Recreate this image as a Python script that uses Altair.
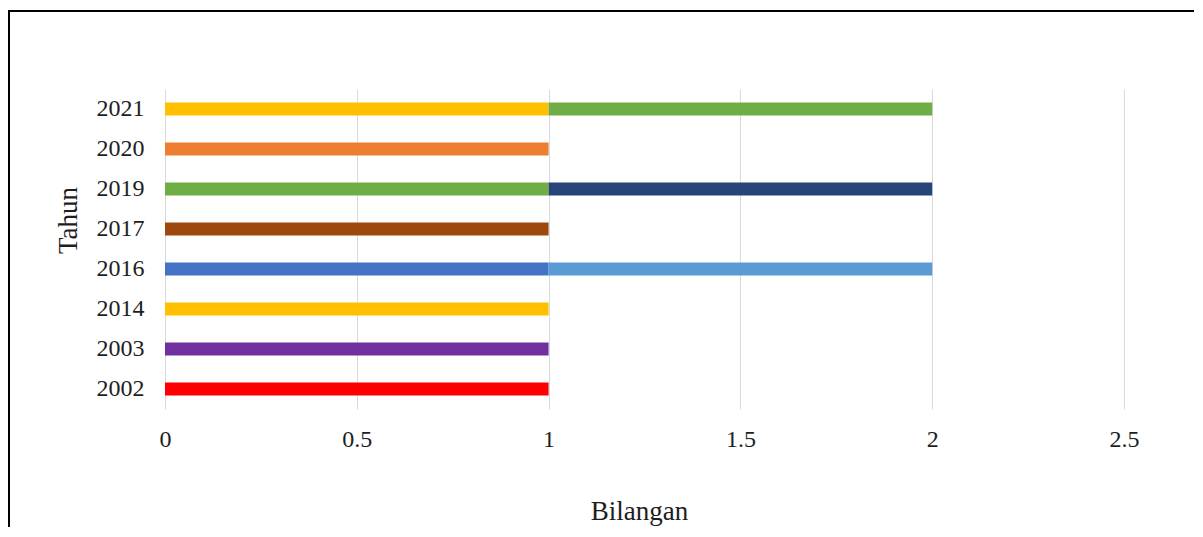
import altair as alt
import pandas as pd

# ---- data ----
years = ["2002", "2003", "2014", "2016", "2017", "2019", "2020", "2021"]
bar_year = ["2002", "2003", "2014", "2016", "2016", "2017", "2019", "2019", "2020", "2021", "2021"]
bar_value = [1, 1, 1, 1, 1, 1, 1, 1, 1, 1, 1]
bar_order = [1, 1, 1, 1, 2, 1, 1, 2, 1, 1, 2]
bar_color = ["#FF0000", "#7030A0", "#FFC000", "#4472C4", "#5B9BD5", "#9E480E",
             "#70AD47", "#264478", "#ED7D31", "#FFC000", "#70AD47"]
x_ticks = [0, 0.5, 1, 1.5, 2, 2.5]

df = pd.DataFrame({"Tahun": bar_year, "Bilangan": bar_value,
                   "urut": bar_order, "warna": bar_color})

FONT = "Liberation Serif"
TXT = "#1e1e1e"

bars = alt.Chart(df).mark_bar(size=13).encode(
    x=alt.X("sum(Bilangan):Q",
            scale=alt.Scale(domain=[0, 2.5], nice=False, zero=True),
            axis=alt.Axis(values=x_ticks, title="Bilangan", grid=True, format="~g",
                          gridColor="#D9D9D9", gridWidth=1, domain=False,
                          ticks=False, labelPadding=18, labelFontSize=24,
                          labelFont=FONT, labelColor=TXT, labelFlush=False,
                          titleFont=FONT, titleFontSize=27, titleFontWeight="normal",
                          titleColor=TXT, titleY=110, titleX=474,
                          titleBaseline="alphabetic")),
    y=alt.Y("Tahun:N", sort=years[::-1],
            scale=alt.Scale(paddingInner=0, paddingOuter=0),
            axis=alt.Axis(title="Tahun", domain=False, ticks=False, grid=False,
                          labelPadding=21, labelFontSize=24, labelFont=FONT,
                          labelColor=TXT, titleFont=FONT, titleFontSize=27,
                          titleFontWeight="normal", titleColor=TXT,
                          titleX=-97, titleY=131, titleBaseline="middle")),
    color=alt.Color("warna:N", scale=None),
    order=alt.Order("urut:Q"),
)

frame_data = alt.Data(values=[{"k": 1}])
frame_left = alt.Chart(frame_data).mark_rule(color="black", strokeWidth=2).encode(
    x=alt.value(-156), y=alt.value(-78), y2=alt.value(800))
frame_top = alt.Chart(frame_data).mark_rule(color="black", strokeWidth=2).encode(
    x=alt.value(-157), x2=alt.value(1200), y=alt.value(-78))

chart = alt.layer(bars, frame_left, frame_top).properties(
    width=959, height=320,
    background="white",
    padding={"left": 157, "top": 81, "right": 70, "bottom": 118},
    autosize=alt.AutoSizeParams(type="none"),
).configure_view(strokeWidth=0, stroke="transparent")

chart.save("out.html", embed_options={"renderer": "svg", "actions": False})
